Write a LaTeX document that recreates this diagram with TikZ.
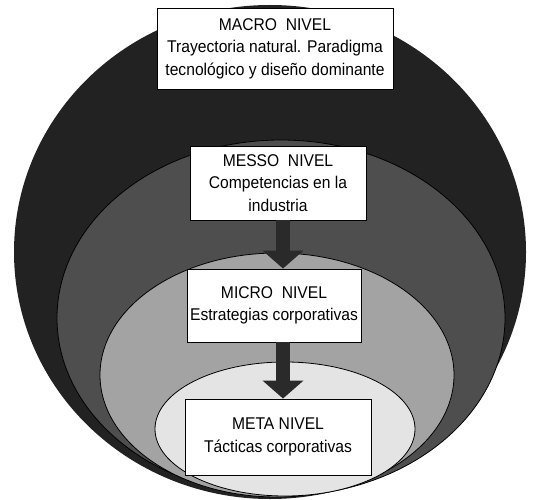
\documentclass[tikz,border=0pt]{standalone}
\usepackage{fontspec}
\setmainfont{Liberation Sans}[FakeStretch=0.92]
\usetikzlibrary{arrows.meta}
\definecolor{ringA}{HTML}{222222}
\definecolor{ringB}{HTML}{4E4E4E}
\definecolor{ringC}{HTML}{A3A3A3}
\definecolor{ringD}{HTML}{E4E4E4}
\definecolor{arrowgray}{HTML}{2A2A2A}
\begin{document}
\begin{tikzpicture}[x=1pt,y=-1pt,
  level/.style={draw=black,line width=0.9pt,fill=white,align=center,
    inner sep=0pt,font=\fontsize{17}{22.5}\selectfont},
  ring/.style={draw=black,line width=0.8pt},
  bigarrow/.style={draw=arrowgray,line width=14pt,
    -{Triangle[width=40pt,length=18pt]}}]
\useasboundingbox (0,0) rectangle (535,500);
% nested levels, outermost first
\fill[ringA] (270,252) ellipse [x radius=256pt,y radius=247pt];
\draw[ring,fill=ringB] (281,318) ellipse [x radius=224pt,y radius=178pt];
\draw[ring,fill=ringC] (277,375) ellipse [x radius=177pt,y radius=122pt];
\draw[ring,fill=ringD] (285,429) ellipse [x radius=130pt,y radius=67pt];
% level boxes
\node[level,minimum width=236pt,minimum height=81pt] (macro) at (275,48.5)
  {MACRO\ \ NIVEL\\Trayectoria natural. Paradigma\\tecnológico y diseño dominante};
\node[level,minimum width=176pt,minimum height=74pt] (messo) at (278,183)
  {MESSO\ \ NIVEL\\Competencias en la\\industria};
\node[level,minimum width=174pt,minimum height=73pt] (micro) at (274,305.5)
  {MICRO\ \ NIVEL\\Estrategias corporativas};
\node[level,minimum width=186pt,minimum height=76pt] (meta) at (278,437)
  {META NIVEL\\Tácticas corporativas};
% downward arrows between levels
\coordinate (axis) at (283,0);
\draw[bigarrow] (messo.south -| axis) -- (micro.north -| axis);
\draw[bigarrow] (micro.south -| axis) -- (meta.north -| axis);
\end{tikzpicture}
\end{document}
